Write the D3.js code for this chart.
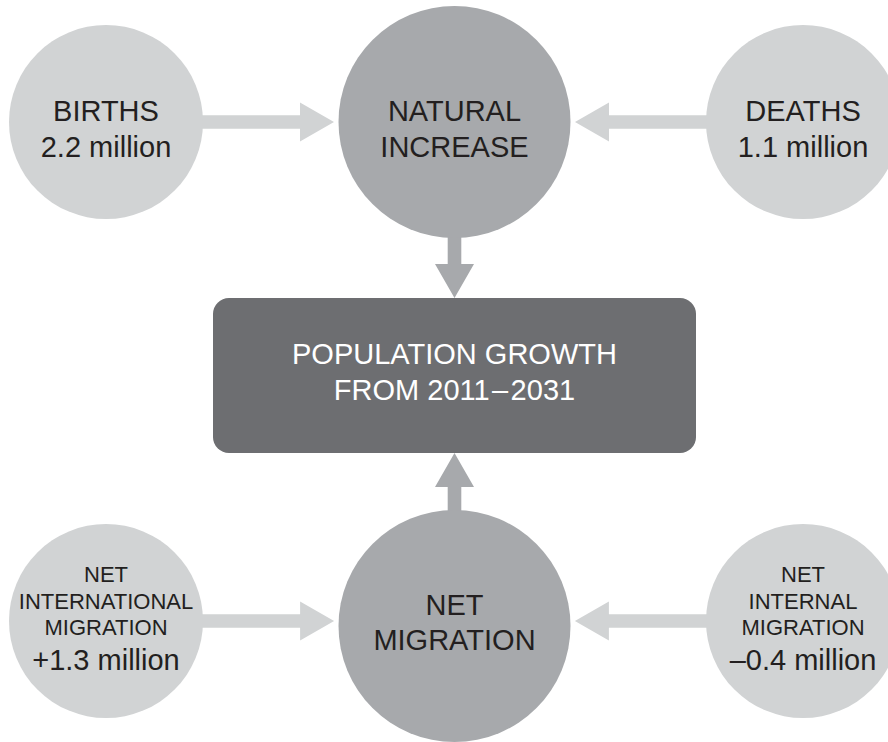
<!DOCTYPE html>
<html>
<head>
<meta charset="utf-8">
<script src="https://cdn.jsdelivr.net/npm/d3@7"></script>
<style>
  html, body { margin: 0; padding: 0; background: #ffffff; }
  svg { display: block; }
</style>
</head>
<body>
<svg id="chart" width="888" height="742"></svg>
<script>
// ---- data ----
const nodeNames  = ["BIRTHS", "NATURAL INCREASE", "DEATHS", "NET INTERNATIONAL MIGRATION", "NET MIGRATION", "NET INTERNAL MIGRATION"];
const nodeLines  = [["BIRTHS"], ["NATURAL", "INCREASE"], ["DEATHS"], ["NET", "INTERNATIONAL", "MIGRATION"], ["NET", "MIGRATION"], ["NET", "INTERNAL", "MIGRATION"]];
const nodeValues = ["2.2 million", "", "1.1 million", "+1.3 million", "", "\u20130.4 million"];
const nodeCols   = ["left", "center", "right", "left", "center", "right"];
const nodeRows   = ["top", "top", "top", "bottom", "bottom", "bottom"];
const nodeKinds  = ["source", "hub", "source", "source", "hub", "source"];

const resultLines = ["POPULATION GROWTH", "FROM 2011\u200A\u2013\u200A2031"];

const linkFrom = ["BIRTHS", "DEATHS", "NATURAL INCREASE", "NET INTERNATIONAL MIGRATION", "NET INTERNAL MIGRATION", "NET MIGRATION"];
const linkTo   = ["NATURAL INCREASE", "NATURAL INCREASE", "RESULT", "NET MIGRATION", "NET MIGRATION", "RESULT"];

// ---- scales ----
const x = d3.scaleOrdinal().domain(["left", "center", "right"]).range([106, 454.5, 803]);
const y = d3.scaleOrdinal().domain(["top", "middle", "bottom"]).range([122, 375.5, 621]);
const radius = d3.scaleOrdinal().domain(["source", "hub"]).range([97, 116]);
const fill = d3.scaleOrdinal().domain(["source", "hub", "result"]).range(["#d1d3d4", "#a7a9ac", "#6d6e71"]);

const FONT = "'Liberation Sans', Arial, Helvetica, sans-serif";
const TEXT = "#231f20";

const svg = d3.select("#chart");

const nodes = nodeNames.map((name, i) => {
  const kind = nodeKinds[i];
  const cx = x(nodeCols[i]);
  const cy = y(nodeRows[i]) + (kind === "hub" && nodeRows[i] === "bottom" ? 5 : 0);
  return { name, lines: nodeLines[i], value: nodeValues[i], row: nodeRows[i], kind, cx, cy, r: radius(kind) };
});
const byName = new Map(nodes.map(n => [n.name, n]));

const box = { name: "RESULT", cx: x("center"), cy: y("middle"), w: 483, h: 155, rx: 16 };

// ---- arrows ----
const shaftHalf = 6.8, headHalf = 19.5, headLen = 34;
function arrowPath(x0, y0, x1, y1) {
  const dx = x1 - x0, dy = y1 - y0, L = Math.hypot(dx, dy);
  const ux = dx / L, uy = dy / L, px = -uy, py = ux;
  const bx = x1 - ux * headLen, by = y1 - uy * headLen;
  const p = d3.path();
  p.moveTo(x0 + px * shaftHalf, y0 + py * shaftHalf);
  p.lineTo(bx + px * shaftHalf, by + py * shaftHalf);
  p.lineTo(bx + px * headHalf, by + py * headHalf);
  p.lineTo(x1, y1);
  p.lineTo(bx - px * headHalf, by - py * headHalf);
  p.lineTo(bx - px * shaftHalf, by - py * shaftHalf);
  p.lineTo(x0 - px * shaftHalf, y0 - py * shaftHalf);
  p.closePath();
  return p.toString();
}

const links = linkFrom.map((f, i) => {
  const s = byName.get(f);
  const t = linkTo[i] === "RESULT" ? box : byName.get(linkTo[i]);
  let x0, y0, x1, y1, color;
  if (t === box) {
    // vertical arrow into box
    const dir = s.cy < box.cy ? 1 : -1;
    x0 = s.cx; y0 = s.cy + dir * (s.r - 2);
    x1 = s.cx; y1 = box.cy - dir * box.h / 2;
    color = fill("hub");
  } else {
    const dir = s.cx < t.cx ? 1 : -1;
    const ay = s.cy;
    x0 = s.cx + dir * (s.r - 2); y0 = ay;
    const tdy = ay - t.cy;
    x1 = t.cx - dir * (Math.sqrt(t.r * t.r - tdy * tdy) + 4.5); y1 = ay;
    color = fill("source");
  }
  return { d: arrowPath(x0, y0, x1, y1), color };
});

svg.append("g").selectAll("path").data(links).join("path")
  .attr("d", d => d.d).attr("fill", d => d.color);

// ---- result box ----
svg.append("rect")
  .attr("x", box.cx - box.w / 2).attr("y", box.cy - box.h / 2)
  .attr("width", box.w).attr("height", box.h)
  .attr("rx", box.rx).attr("ry", box.rx)
  .attr("fill", fill("result"));

svg.append("text")
  .attr("text-anchor", "middle")
  .attr("font-family", FONT).attr("font-size", 29).attr("fill", "#ffffff")
  .selectAll("tspan").data(resultLines).join("tspan")
  .attr("x", box.cx).attr("y", (d, i) => box.cy - 11.5 + i * 36)
  .text(d => d);

// ---- circles ----
const g = svg.append("g").selectAll("g").data(nodes).join("g");
g.append("circle")
  .attr("cx", d => d.cx).attr("cy", d => d.cy).attr("r", d => d.r)
  .attr("fill", d => fill(d.kind));

g.each(function (d) {
  const t = d3.select(this).append("text")
    .attr("text-anchor", "middle").attr("font-family", FONT).attr("fill", TEXT);
  let items;
  if (d.lines.length === 3) {
    // small label lines + large value
    items = d.lines.map((l, i) => ({ text: l, size: 22, dy: -39 + i * 26.5 }));
    items.push({ text: d.value, size: 29, dy: 49 });
  } else if (d.value) {
    items = [{ text: d.lines[0], size: 29, dy: -1 }, { text: d.value, size: 29, dy: 35 }];
  } else if (d.row === "top") {
    items = d.lines.map((l, i) => ({ text: l, size: 29, dy: -1 + i * 36 }));
  } else {
    items = d.lines.map((l, i) => ({ text: l, size: 29, dy: -11 + i * 35 }));
  }
  t.selectAll("tspan").data(items).join("tspan")
    .attr("x", d.cx).attr("y", it => d.cy + it.dy)
    .attr("font-size", it => it.size)
    .text(it => it.text);
});
</script>
</body>
</html>
